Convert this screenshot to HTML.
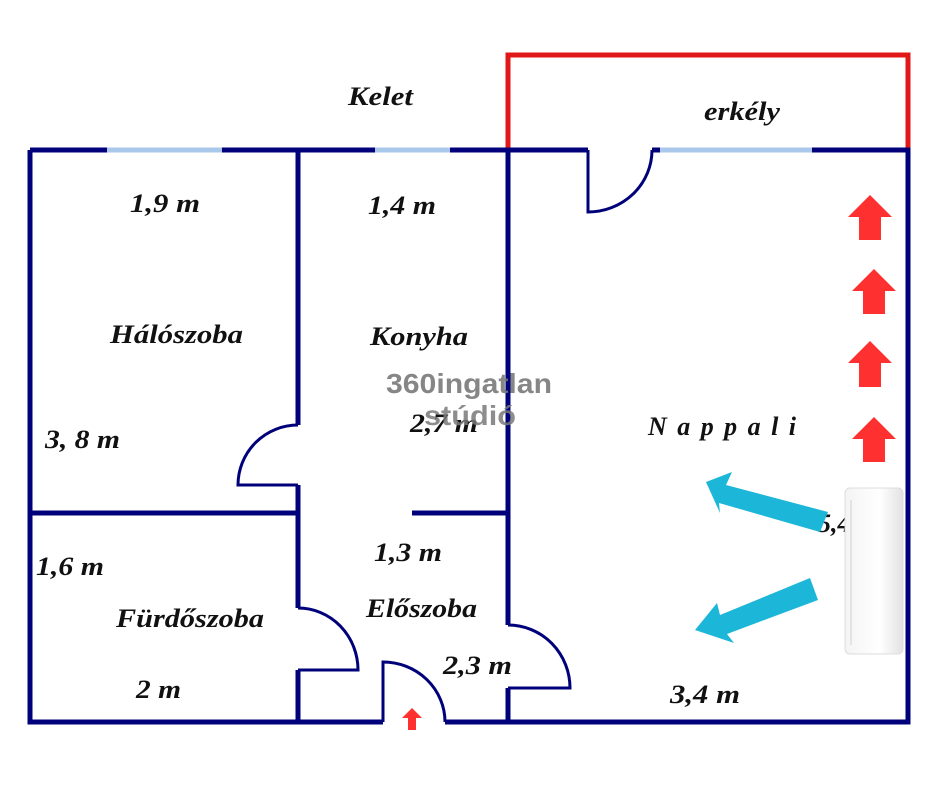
<!DOCTYPE html>
<html><head><meta charset="utf-8"><style>
html,body{margin:0;padding:0;background:#fff;}
svg{display:block}
text{font-family:"Liberation Serif",serif;font-style:italic;font-weight:bold;font-size:26px;fill:#111}
</style></head><body>
<svg width="940" height="788" viewBox="0 0 940 788" xmlns="http://www.w3.org/2000/svg">
<defs><linearGradient id="ac" x1="0" x2="1"><stop offset="0" stop-color="#f4f4f4"/><stop offset="0.6" stop-color="#fff"/><stop offset="1" stop-color="#e2e2e2"/></linearGradient></defs>
<path d="M508,150 V55 H908 V150" fill="none" stroke="#e01818" stroke-width="5"/>
<g stroke="#00007a" stroke-width="5" fill="none">
<path d="M30,150 H588 M652,150 H908 V722 H445 M383,722 H30 V150"/>
<path d="M298,150 V425 M298,485 V608 M298,670 V722"/>
<path d="M508,150 V625 M508,688 V722"/>
<path d="M30,513 H298 M412,513 H508"/>
<path d="M588,150 V212 A64,62 0 0 0 652,150" stroke-width="3"/>
<path d="M298,425 A60,60 0 0 0 238,485 H298" stroke-width="3"/>
<path d="M298,608 A60,62 0 0 1 358,670 H298" stroke-width="3"/>
<path d="M508,625 A62,63 0 0 1 570,688 H508" stroke-width="3"/>
<path d="M383,722 V662 A62,60 0 0 1 445,722" stroke-width="3"/>
</g>
<g stroke="#a9c8ea" stroke-width="5">
<path d="M107,150 H222 M375,150 H450 M660,150 H812"/>
</g>
<g fill="#ff3030">
<polygon points="870,195 892,217 881,217 881,240 859,240 859,217 848,217"/>
<polygon points="874,269 896,291 885,291 885,314 863,314 863,291 852,291"/>
<polygon points="870,341 892,363 881,363 881,387 859,387 859,363 848,363"/>
<polygon points="874,417 896,439 885,439 885,462 863,462 863,439 852,439"/>
<polygon points="412,708 422,718 416,718 416,730 408,730 408,718 402,718"/>
</g>
<g lengthAdjust="spacingAndGlyphs">
<text x="348" y="105" textLength="65" lengthAdjust="spacingAndGlyphs">Kelet</text>
<text x="704" y="120" textLength="76" lengthAdjust="spacingAndGlyphs">erkély</text>
<text x="130" y="212" textLength="70" lengthAdjust="spacingAndGlyphs">1,9 m</text>
<text x="368" y="214" textLength="68" lengthAdjust="spacingAndGlyphs">1,4 m</text>
<text x="110" y="343" textLength="133" lengthAdjust="spacingAndGlyphs">Hálószoba</text>
<text x="370" y="345" textLength="98" lengthAdjust="spacingAndGlyphs">Konyha</text>
<text x="45" y="448" textLength="75" lengthAdjust="spacingAndGlyphs">3, 8 m</text>
<text x="410" y="432" textLength="68" lengthAdjust="spacingAndGlyphs">2,7 m</text>
<text x="648" y="435" textLength="148">Nappali</text>
<text x="374" y="561" textLength="68" lengthAdjust="spacingAndGlyphs">1,3 m</text>
<text x="36" y="575" textLength="68" lengthAdjust="spacingAndGlyphs">1,6 m</text>
<text x="116" y="627" textLength="148" lengthAdjust="spacingAndGlyphs">Fürdőszoba</text>
<text x="366" y="617" textLength="111" lengthAdjust="spacingAndGlyphs">Előszoba</text>
<text x="443" y="674" textLength="69" lengthAdjust="spacingAndGlyphs">2,3 m</text>
<text x="136" y="698" textLength="45" lengthAdjust="spacingAndGlyphs">2 m</text>
<text x="670" y="703" textLength="70" lengthAdjust="spacingAndGlyphs">3,4 m</text>
</g>
<text x="818" y="532">5,4</text>
<text x="386" y="393" textLength="166" lengthAdjust="spacingAndGlyphs" style="font-family:'Liberation Sans',sans-serif;font-style:normal;font-size:28px;fill:#7a7a7a;opacity:0.9">360ingatlan</text>
<text x="424" y="425" textLength="92" lengthAdjust="spacingAndGlyphs" style="font-family:'Liberation Sans',sans-serif;font-style:normal;font-size:28px;fill:#7a7a7a;opacity:0.85">stúdió</text>
<rect x="845" y="488" width="58" height="166" rx="5" fill="url(#ac)" stroke="#dcdcdc"/>
<line x1="851" y1="500" x2="851" y2="645" stroke="#d0d0d0"/>
<g fill="#1cb6d8">
<polygon points="706,482 732,472 726,485 828,512 820,532 719,503 720,513"/>
<polygon points="695,630 717,603 720,615 810,578 818,600 727,634 734,643"/>
</g>
</svg>
</body></html>
